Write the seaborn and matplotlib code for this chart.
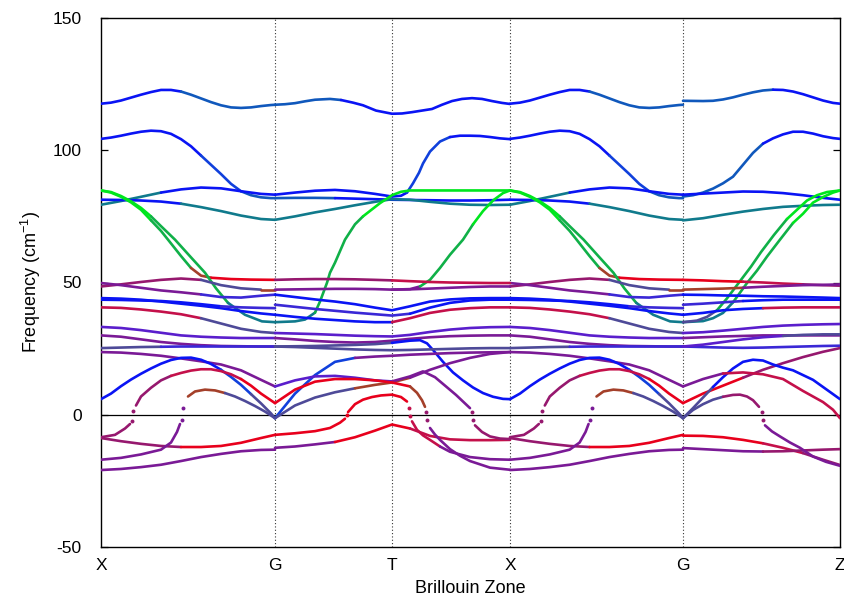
import matplotlib
matplotlib.use("Agg")
import matplotlib.pyplot as plt
import seaborn as sns

# ---------------- k-path (path units: X=0, G=174, T=291, X=409, G=582, Z=739)
TICK_POS = [0, 174, 291, 409, 582, 739]
TICK_LAB = ['X', 'G', 'T', 'X', 'G', 'Z']
XA = [0, 20, 40, 60, 80, 100, 120, 140, 160, 174]                 # X -> G (relative to X)
XA_F = [0, 10, 20, 30, 40, 50, 60, 70, 80, 90, 100, 110, 120, 130, 140, 150, 160, 170, 174]
XB = [174, 194, 214, 234, 254, 274, 291, 309, 329, 349, 369, 389, 409]  # G -> T -> X
XC = [582, 602, 622, 642, 662, 682, 702, 722, 739]                 # G -> Z
LEG_STARTS = [0, 409]     # both X -> G legs

# ---------------- segment X -> G
A_TOP = [117.6, 118.0, 118.8, 119.9, 121.0, 122.0, 122.8, 122.8, 122.2, 121.0,
         119.6, 118.2, 117.0, 116.2, 116.0, 116.2, 116.7, 117.1, 117.2]
A_104 = [104.3, 104.8, 105.5, 106.3, 107.0, 107.4, 107.2, 106.2, 104.2, 101.5,
         98.0, 94.5, 91.0, 87.3, 84.5, 83.0, 82.2, 81.9, 81.9]
A_BLUE6 = [5.9, 8.0, 10.8, 13.3, 15.5, 17.5, 19.3, 20.7, 21.5, 21.6,
           20.8, 19.2, 17.0, 14.3, 11.3, 7.8, 4.3, 0.5, -1.3]
A_RISE = [79.4, 80.8, 82.4, 84.0, 85.2, 85.9, 85.6, 84.5, 83.5, 83.2]
A_FLAT = [81.3, 81.2, 81.0, 80.6, 79.8, 78.5, 77.0, 75.3, 74.0, 73.7]
A_GREEN1_X = [0, 10, 20, 30, 40, 50, 60, 67, 80, 90, 100, 110, 130, 150, 174]
A_GREEN1 = [84.8, 84.0, 82.4, 80.3, 77.5, 73.5, 69.5, 66.2, 60.0, 55.5, 52.6, 51.8, 51.3, 51.1, 51.0]
A_GREEN2_X = [0, 10, 20, 30, 40, 50, 60, 74, 90, 104, 115, 127, 144, 161, 174]
A_GREEN2 = [84.8, 84.2, 82.7, 80.7, 78.2, 75.0, 71.3, 66.2, 59.5, 53.7, 47.8, 42.3, 37.8, 35.3, 35.0]
A_48 = [48.5, 49.3, 50.2, 51.0, 51.5, 51.0, 49.0, 47.8, 47.3, 47.3]
A_50 = [49.8, 49.0, 48.0, 47.0, 46.3, 45.5, 44.5, 44.3, 45.0, 45.4]
A_44 = [44.1, 43.9, 43.5, 42.8, 42.0, 41.2, 40.3, 39.2, 38.3, 37.8]
A_435 = [43.5, 43.4, 43.2, 43.0, 42.5, 41.8, 41.0, 40.6, 40.4, 40.3]
A_41 = [40.6, 40.4, 39.8, 39.0, 38.0, 36.5, 34.5, 32.5, 31.3, 30.9]
A_33 = [33.2, 32.8, 32.0, 31.0, 30.0, 29.5, 29.2, 29.0, 29.0, 29.0]
A_30 = [30.0, 29.5, 28.5, 27.5, 26.8, 26.3, 26.0, 25.9, 25.8, 25.8]
A_25 = [25.2, 25.4, 25.6, 25.7, 25.8, 25.8, 25.8, 25.8, 25.8, 25.8]
A_24 = [23.7, 23.5, 23.0, 22.3, 21.3, 20.2, 19.0, 16.8, 13.2, 10.7]
A_RNEG = [-8.8, -10.0, -11.0, -11.8, -12.2, -12.2, -11.8, -10.6, -8.8, -7.6]
A_PNEG = [-20.9, -20.5, -19.8, -18.9, -17.5, -16.0, -14.8, -13.8, -13.3, -13.2]
A_R17_LO_X = [0, 14, 24, 29]
A_R17_LO = [-8.5, -7.6, -5.2, -3.5]
A_R17_DOT_X = [30.7, 32.3]
A_R17_DOT = [-2.5, 1.3]
A_R17_HI_X = [35, 40, 50, 60, 70, 80, 90, 100, 110, 120, 130, 140, 150, 160, 174]
A_R17_HI = [3.5, 6.9, 10.2, 13.0, 14.7, 15.8, 16.7, 17.2, 17.2, 16.5, 15.3, 13.5, 11.0, 8.0, 4.4]
A_BR_LO_X = [0, 20, 40, 60, 70, 76, 79]
A_BR_LO = [-17.0, -16.3, -15.0, -13.2, -10.5, -6.5, -3.5]
A_BR_DOT_X = [80.7, 82.3]
A_BR_DOT = [-1.9, 2.5]
A_BR_HI_X = [87, 94, 104, 114, 124, 134, 144, 154, 164, 174]
A_BR_HI = [6.9, 8.8, 9.5, 9.2, 8.2, 6.9, 5.2, 3.3, 1.2, -1.3]

# ---------------- segment G -> T -> X
B_TOP_X = [174, 184, 194, 204, 214, 229, 240, 252, 262, 275, 291, 301, 311, 321, 331,
           341, 351, 361, 371, 381, 391, 401, 409]
B_TOP = [117.2, 117.4, 117.8, 118.5, 119.1, 119.4, 119.0, 118.0, 117.0, 115.0, 113.8, 113.9,
         114.4, 115.0, 115.6, 117.2, 118.6, 119.4, 119.7, 119.4, 118.6, 117.9, 117.5]
B_HI1_X = [174, 194, 214, 234, 254, 274, 291, 300, 306, 312, 318, 322, 329, 339, 349,
           359, 369, 379, 389, 399, 409]
B_HI1 = [83.2, 84.0, 84.7, 85.0, 84.5, 83.5, 82.5, 82.8, 84.0, 87.5, 91.5, 95.0, 99.5,
         103.3, 105.0, 105.5, 105.5, 105.4, 105.0, 104.5, 104.2]
B_HI2 = [81.9, 82.0, 82.0, 81.9, 81.7, 81.5, 81.3, 81.2, 81.1, 81.0, 81.0, 81.1, 81.3]
B_TEAL = [73.7, 75.0, 76.5, 77.8, 79.2, 80.5, 81.5, 81.3, 80.5, 79.8, 79.4, 79.3, 79.4]
B_GREEN1_X = [174, 194, 204, 214, 219, 226, 229, 234, 244, 254, 262, 279, 291, 300, 309, 409]
B_GREEN1 = [35.0, 35.3, 36.0, 38.6, 42.8, 49.9, 53.7, 57.5, 66.2, 72.0, 75.0, 80.0, 83.0,
            84.3, 84.8, 84.8]
B_GREEN2_X = [291, 309, 319, 329, 339, 349, 362, 372, 382, 392, 402, 409]
B_GREEN2 = [47.3, 47.5, 48.5, 51.0, 55.5, 60.5, 66.2, 72.0, 77.0, 81.0, 83.8, 84.8]
B_51 = [51.0, 51.2, 51.3, 51.3, 51.2, 51.0, 50.8, 50.5, 50.2, 50.0, 49.9, 49.8, 49.8]
B_473 = [47.3, 47.4, 47.5, 47.6, 47.6, 47.5, 47.3, 47.4, 47.7, 48.0, 48.3, 48.5, 48.5]
B_454 = [45.4, 44.5, 43.6, 42.8, 41.8, 40.5, 39.5, 41.0, 42.8, 43.6, 44.0, 44.1, 44.1]
B_416 = [41.6, 40.8, 40.0, 39.3, 38.6, 38.0, 37.5, 38.2, 40.5, 42.3, 43.2, 43.5, 43.5]
B_378 = [37.8, 37.0, 36.3, 35.8, 35.3, 35.0, 35.0, 36.5, 38.5, 39.7, 40.3, 40.6, 40.6]
B_309 = [30.9, 30.7, 30.5, 30.2, 29.9, 29.7, 29.6, 30.2, 31.3, 32.2, 32.8, 33.1, 33.2]
B_290 = [29.0, 28.5, 27.9, 27.5, 27.3, 27.5, 28.0, 28.7, 29.3, 29.7, 29.9, 30.0, 30.0]
B_BLUE6_X = [174, 194, 214, 234, 254, 274, 291, 309, 319, 326, 332, 342, 352, 362, 372,
             382, 392, 402, 409]
B_BLUE6 = [25.8, 25.9, 26.0, 26.2, 26.4, 26.7, 27.2, 28.0, 28.2, 27.0, 24.5, 20.0, 16.0,
           13.0, 10.3, 8.2, 6.8, 6.0, 5.9]
B_258 = [25.8, 25.6, 25.3, 25.0, 24.7, 24.5, 24.4, 24.5, 24.7, 24.9, 25.1, 25.2, 25.2]
B_BLUE20 = [-1.3, 8.0, 15.0, 20.0, 21.5, 22.0, 22.3, 22.7, 23.0, 23.3, 23.5, 23.6, 23.7]
B_BROWN = [-1.3, 3.5, 6.5, 8.5, 10.0, 11.3, 12.2, 14.0, 17.0, 19.5, 21.5, 23.0, 23.7]
B_R1 = [-12.5, -12.0, -11.2, -10.3, -8.5, -6.0, -3.7, -5.2, -8.0, -9.3, -9.6, -9.6, -9.5]
B_V_HI_X = [174, 194, 214, 234, 254, 274, 291, 309, 322, 334, 345, 355, 362, 369]
B_V_HI = [10.7, 13.0, 14.5, 14.7, 14.0, 13.0, 12.6, 14.5, 16.4, 14.2, 10.7, 7.5, 5.0, 2.5]
B_V_DOT_X = [370.7, 372.3]
B_V_DOT = [1.2, -1.9]
B_V_LO_X = [374, 381, 389, 399, 409]
B_V_LO = [-4.0, -6.5, -8.2, -9.0, -9.2]
B_R44_HI_X = [174, 194, 214, 234, 254, 274, 291, 309, 316, 321, 324]
B_R44_HI = [4.4, 9.5, 12.5, 13.5, 13.5, 13.0, 12.2, 10.7, 8.3, 5.5, 3.0]
B_R44_DOT_X = [325.5, 326.0]
B_R44_DOT = [1.2, -1.9]
B_R44_LO_X = [329, 334, 339, 349, 359, 369, 389, 409]
B_R44_LO = [-5.0, -7.5, -9.5, -13.0, -15.5, -17.5, -20.0, -20.8]
B_L1_LO_X = [174, 194, 214, 229, 239, 244]
B_L1_LO = [-7.6, -7.0, -6.2, -5.0, -3.0, -1.5]
B_L1_DOT_X = [245.7]
B_L1_DOT = [0.0]
B_L1_HI_X = [247, 254, 262, 271, 280, 291, 300, 306]
B_L1_HI = [1.0, 4.0, 5.7, 6.7, 7.3, 7.6, 6.7, 5.0]
B_L1_DOT2_X = [308.5, 309.2]
B_L1_DOT2 = [2.6, -0.6]
B_L1_LO2_X = [311, 316, 322, 329, 339, 349, 369, 389, 409]
B_L1_LO2 = [-2.5, -5.7, -7.8, -9.5, -12.0, -14.0, -16.0, -16.8, -17.0]

# ---------------- segment G -> Z
C_TOP_X = [582, 602, 612, 622, 632, 642, 652, 662, 672, 682, 692, 702, 712, 722, 732, 739]
C_TOP = [118.7, 118.6, 118.7, 119.2, 120.0, 121.0, 121.9, 122.6, 122.9, 122.8, 122.2,
         121.2, 120.0, 118.8, 117.9, 117.6]
C_104_X = [582, 592, 602, 612, 622, 632, 642, 652, 662, 672, 682, 692, 702, 712, 722, 732, 739]
C_104 = [82.5, 83.0, 84.0, 85.5, 87.5, 90.0, 94.5, 99.0, 102.5, 104.5, 106.0, 107.0, 107.0,
         106.3, 105.3, 104.6, 104.3]
C_BLUE85 = [83.2, 83.6, 84.0, 84.4, 84.3, 83.8, 83.0, 82.0, 81.3]
C_TEAL = [73.5, 74.3, 75.6, 76.8, 77.8, 78.6, 79.0, 79.3, 79.4]
C_GREEN1_X = [582, 602, 612, 622, 632, 646, 656, 666, 679, 692, 702, 712, 722, 732, 739]
C_GREEN1 = [35.0, 35.4, 36.5, 38.5, 42.5, 49.8, 54.5, 59.8, 66.2, 72.5, 76.0, 80.2, 82.3, 84.0, 84.8]
C_GREEN2_X = [582, 596, 606, 616, 626, 640, 650, 660, 673, 686, 696, 706, 716, 726, 739]
C_GREEN2 = [35.0, 35.6, 37.0, 39.5, 44.0, 51.0, 56.0, 61.5, 68.0, 74.0, 77.5, 81.0, 83.0, 84.2, 84.8]
C_51 = [51.0, 50.8, 50.5, 50.3, 50.0, 49.6, 49.3, 49.0, 48.8]
C_473 = [47.3, 47.5, 47.7, 48.0, 48.4, 48.7, 49.0, 49.1, 49.3]
C_454 = [45.4, 45.3, 45.1, 45.0, 44.8, 44.7, 44.5, 44.3, 44.1]
C_416 = [41.6, 42.0, 42.5, 43.0, 43.3, 43.5, 43.5, 43.5, 43.5]
C_378 = [37.8, 38.5, 39.5, 40.0, 40.3, 40.5, 40.6, 40.6, 40.6]
C_309 = [30.9, 31.2, 31.8, 32.5, 33.2, 33.7, 34.0, 34.2, 34.3]
C_290 = [29.0, 29.3, 29.6, 29.8, 30.0, 30.0, 30.0, 30.0, 30.0]
C_258 = [25.8, 25.6, 25.4, 25.3, 25.4, 25.6, 25.8, 26.0, 26.1]
C_258B = [25.8, 26.5, 27.5, 28.5, 29.3, 29.8, 30.2, 30.4, 30.4]
C_RED44 = [4.4, 8.0, 11.0, 14.0, 17.0, 19.5, 21.8, 23.8, 25.2]
C_BLUEAC_X = [582, 592, 602, 612, 622, 632, 642, 652, 662, 672, 682, 692, 702, 712, 722, 732, 739]
C_BLUEAC = [-1.3, 2.5, 6.5, 10.5, 14.2, 17.5, 20.0, 20.8, 20.5, 19.0, 17.8, 16.8, 15.0,
            13.2, 10.5, 7.8, 5.9]
C_RNEG = [-7.9, -8.0, -8.5, -9.5, -10.8, -12.5, -14.5, -17.0, -19.0]
C_PNEG = [-12.6, -13.0, -13.4, -13.8, -13.9, -13.8, -13.5, -13.2, -13.0]
C_REDHI_X = [582, 602, 622, 642, 662, 682, 702, 722, 732, 739]
C_REDHI = [10.7, 13.5, 15.6, 16.0, 15.3, 13.5, 9.0, 4.8, 1.9, -1.3]
C_BA_HI_X = [582, 592, 602, 612, 622, 632, 639, 646, 652, 658]
C_BA_HI = [-1.3, 1.8, 4.0, 5.7, 6.8, 7.5, 7.6, 6.9, 5.5, 3.0]
C_BA_DOT_X = [660.7, 662.0]
C_BA_DOT = [1.2, -1.9]
C_BA_LO_X = [664, 671, 679, 689, 699, 712, 725, 739]
C_BA_LO = [-4.0, -6.3, -8.2, -10.5, -12.5, -15.8, -17.8, -19.3]

# ---------------- colours
RED = '#e8001c'
CRIMSON = '#c4104a'
MAGENTA = '#96186e'
PURPLE = '#7a1a96'
VIOLET = '#5a1ecc'
INDIGO = '#3a28d6'
BLUE = '#0a14f4'
MBLUE = '#1040dc'
SBLUE = '#1058bc'
TEAL = '#107a8c'
GREEN = '#00e61e'
GREEN2 = '#10b048'
BROWN = '#a4402a'
SLATE = '#4e4a98'

LW = 1.9

sns.set_theme(style="white")
plt.rcParams['font.family'] = ['Liberation Sans', 'DejaVu Sans']
plt.rcParams['mathtext.fontset'] = 'custom'
plt.rcParams['mathtext.rm'] = 'Liberation Sans'
plt.rcParams['axes.unicode_minus'] = False

fig = plt.figure(figsize=(8.45, 6.0), dpi=100)
ax = fig.add_axes([101 / 845, 53 / 600, 739 / 845, 529 / 600])


def draw(xs, ys, spec):
    if isinstance(spec, str):
        spec = [(0, spec)]
    for i, (s, c) in enumerate(spec):
        e = spec[i + 1][0] if i + 1 < len(spec) else len(xs) - 1
        sns.lineplot(x=list(xs[s:e + 1]), y=list(ys[s:e + 1]), color=c, lw=LW,
                     ax=ax, estimator=None, sort=False, legend=False, zorder=3)


def dots(xs, ys, c):
    sns.scatterplot(x=list(xs), y=list(ys), color=c, s=8, linewidth=0, ax=ax,
                    legend=False, zorder=3)


# reference lines
for xv in TICK_POS[1:-1]:
    ax.axvline(xv, color='#333333', lw=0.8, ls=(0, (1, 2)), zorder=1)
ax.axhline(0, color='black', lw=0.9, zorder=2)

# segment X -> G, drawn for both X->G legs
for off in LEG_STARTS:
    sc = 173.0 / 174.0 if off else 1.0

    def m(xs):
        return [off + v * sc for v in xs]

    draw(m(XA_F), A_TOP, [(0, BLUE), (8, SBLUE)])
    draw(m(XA_F), A_104, [(0, BLUE), (10, MBLUE), (14, SBLUE)])
    draw(m(XA), A_RISE, [(0, TEAL), (3, BLUE)])
    draw(m(XA), A_FLAT, [(0, BLUE), (4, TEAL)])
    draw(m(A_GREEN1_X), A_GREEN1, [(0, GREEN), (5, GREEN2), (9, BROWN), (11, RED)])
    draw(m(A_GREEN2_X), A_GREEN2, [(0, GREEN), (5, GREEN2), (11, TEAL)])
    draw(m(XA), A_48, [(0, MAGENTA), (5, SLATE), (8, BROWN)])
    draw(m(XA), A_50, [(0, PURPLE), (5, INDIGO)])
    draw(m(XA), A_44, BLUE)
    draw(m(XA), A_435, [(0, BLUE), (6, INDIGO)])
    draw(m(XA), A_41, [(0, CRIMSON), (5, SLATE)])
    draw(m(XA), A_33, VIOLET)
    draw(m(XA), A_30, PURPLE)
    draw(m(XA), A_25, [(0, SLATE), (3, INDIGO)])
    draw(m(XA), A_24, PURPLE)
    draw(m(XA_F), A_BLUE6, [(0, BLUE), (12, MBLUE), (15, SLATE)])
    draw(m(XA), A_RNEG, [(0, MAGENTA), (4, RED)])
    draw(m(XA), A_PNEG, PURPLE)
    draw(m(A_R17_LO_X), A_R17_LO, MAGENTA)
    dots(m(A_R17_DOT_X), A_R17_DOT, MAGENTA)
    draw(m(A_R17_HI_X), A_R17_HI, [(0, MAGENTA), (4, CRIMSON), (11, RED)])
    draw(m(A_BR_LO_X), A_BR_LO, PURPLE)
    dots(m(A_BR_DOT_X), A_BR_DOT, PURPLE)
    draw(m(A_BR_HI_X), A_BR_HI, [(0, BROWN), (4, SLATE)])

# segment G -> T -> X
draw(B_TOP_X, B_TOP, [(0, SBLUE), (6, BLUE)])
draw(B_HI1_X, B_HI1, [(0, BLUE), (8, MBLUE), (14, BLUE)])
draw(XB, B_HI2, [(0, SBLUE), (3, BLUE)])
draw(XB, B_TEAL, TEAL)
draw(B_GREEN1_X, B_GREEN1, [(0, TEAL), (3, GREEN2), (10, GREEN)])
draw(B_GREEN2_X, B_GREEN2, [(0, PURPLE), (2, GREEN2), (7, GREEN)])
draw(XB, B_51, [(0, MAGENTA), (6, CRIMSON)])
draw(XB, B_473, PURPLE)
draw(XB, B_454, BLUE)
draw(XB, B_416, [(0, INDIGO), (7, BLUE)])
draw(XB, B_378, [(0, BLUE), (6, CRIMSON)])
draw(XB, B_309, VIOLET)
draw(XB, B_290, PURPLE)
draw(B_BLUE6_X, B_BLUE6, [(0, SLATE), (6, BLUE)])
draw(XB, B_258, SLATE)
draw(XB, B_BLUE20, [(0, MBLUE), (4, PURPLE)])
draw(XB, B_BROWN, [(0, SLATE), (4, BROWN), (7, PURPLE)])
draw(XB, B_R1, [(0, PURPLE), (3, RED), (7, CRIMSON)])
draw(B_V_HI_X, B_V_HI, [(0, VIOLET), (6, PURPLE)])
dots(B_V_DOT_X, B_V_DOT, MAGENTA)
draw(B_V_LO_X, B_V_LO, MAGENTA)
draw(B_R44_HI_X, B_R44_HI, [(0, RED), (7, BROWN)])
dots(B_R44_DOT_X, B_R44_DOT, MAGENTA)
draw(B_R44_LO_X, B_R44_LO, PURPLE)
draw(B_L1_LO_X, B_L1_LO, RED)
dots(B_L1_DOT_X, B_L1_DOT, RED)
draw(B_L1_HI_X, B_L1_HI, RED)
dots(B_L1_DOT2_X, B_L1_DOT2, CRIMSON)
draw(B_L1_LO2_X, B_L1_LO2, [(0, CRIMSON), (4, PURPLE)])

# segment G -> Z
draw(C_TOP_X, C_TOP, [(0, SBLUE), (8, BLUE)])
draw(C_104_X, C_104, [(0, SBLUE), (8, BLUE)])
draw(XC, C_BLUE85, BLUE)
draw(XC, C_TEAL, TEAL)
draw(C_GREEN1_X, C_GREEN1, [(0, TEAL), (4, GREEN2), (9, GREEN)])
draw(C_GREEN2_X, C_GREEN2, [(0, SLATE), (3, GREEN2), (9, GREEN)])
draw(XC, C_51, [(0, RED), (3, CRIMSON), (6, MAGENTA)])
draw(XC, C_473, [(0, BROWN), (3, PURPLE)])
draw(XC, C_454, BLUE)
draw(XC, C_416, [(0, INDIGO), (3, BLUE)])
draw(XC, C_378, [(0, BLUE), (4, CRIMSON)])
draw(XC, C_309, VIOLET)
draw(XC, C_290, PURPLE)
draw(XC, C_258, INDIGO)
draw(XC, C_258B, [(0, VIOLET), (5, SLATE)])
draw(XC, C_RED44, [(0, RED), (3, MAGENTA)])
draw(C_BLUEAC_X, C_BLUEAC, [(0, SLATE), (3, BLUE)])
draw(XC, C_RNEG, [(0, RED), (4, CRIMSON), (6, MAGENTA)])
draw(XC, C_PNEG, [(0, PURPLE), (4, MAGENTA)])
draw(C_REDHI_X, C_REDHI, [(0, PURPLE), (2, CRIMSON)])
draw(C_BA_HI_X, C_BA_HI, [(0, SLATE), (4, MAGENTA)])
dots(C_BA_DOT_X, C_BA_DOT, MAGENTA)
draw(C_BA_LO_X, C_BA_LO, PURPLE)

ax.set_xlim(0, 739)
ax.set_ylim(-50, 150)
ax.set_xticks(TICK_POS)
ax.set_xticklabels(TICK_LAB)
ax.set_yticks([-50, 0, 50, 100, 150])
ax.tick_params(axis='x', length=0, labelsize=12.5, pad=8, colors='black')
ax.tick_params(axis='y', direction='in', length=5, width=0.9, left=True, right=True,
               labelsize=12.5, pad=14, colors='black')
for sp in ax.spines.values():
    sp.set_color('black')
    sp.set_linewidth(1.0)
ax.set_xlabel('Brillouin Zone', fontsize=13, labelpad=5, color='black')
ax.set_ylabel(r'Frequency (cm$^{\mathregular{-1}}$)', fontsize=13, labelpad=7, color='black')

fig.savefig('out.png', dpi=100)
